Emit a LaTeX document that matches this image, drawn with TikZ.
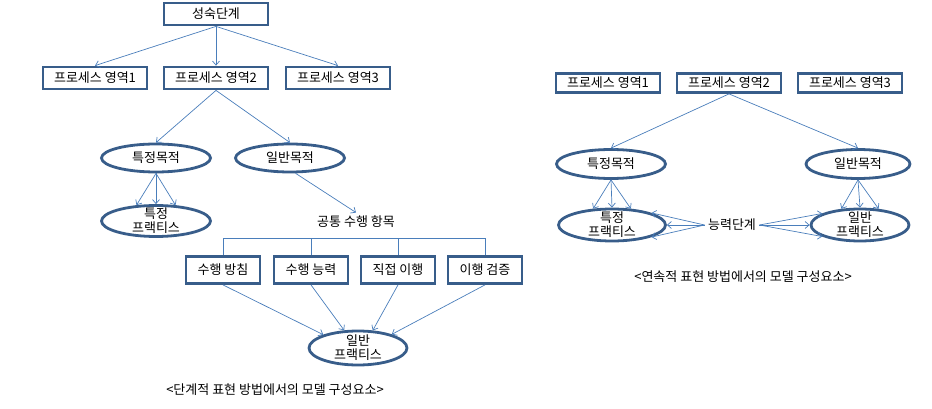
\documentclass[tikz,border=0pt]{standalone}
\usepackage{fontspec}
\setmainfont{Noto Sans CJK KR}
\usetikzlibrary{arrows.meta,shapes.geometric}
\definecolor{boxblue}{HTML}{385D8A}
\definecolor{arrowblue}{HTML}{4A7EBB}

\begin{document}
\begin{tikzpicture}[x=1pt,y=-1pt,font=\fontsize{13}{14}\selectfont,
  box/.style={draw=boxblue,line width=2.8pt,minimum width=104pt,minimum height=22pt,inner sep=0pt},
  gpbox/.style={box,minimum width=74pt,minimum height=27pt},
  oval/.style={ellipse,draw=boxblue,line width=2.8pt,minimum width=109pt,minimum height=28pt,inner sep=0pt},
  twoline/.style={align=center,inner sep=0pt},
  arr/.style={draw=arrowblue,line width=0.7pt,-{Straight Barb[length=4pt,width=7pt]}}]
\useasboundingbox (0,0) rectangle (932,409);
\node[box] (mat) at (216,14) {성숙단계};
\node[box] (pa1) at (95,78) {프로세스 영역1};\node[box] (pa2) at (216,78) {프로세스 영역2};\node[box] (pa3) at (338,78) {프로세스 영역3};
\draw[arr] (mat.south)--(pa1.north);\draw[arr] (mat.south)--(pa2.north);\draw[arr] (mat.south)--(pa3.north);
\node[oval] (sg) at (156,158) {특정목적};\node[oval] (gg) at (290,158) {일반목적};
\draw[arr] (pa2.south)--(sg.north);\draw[arr] (pa2.south)--(gg.north);
\node[oval,minimum height=31pt] (sp) at (156,221) {};\node[twoline] (spt) at (sp) {특정\\프랙티스};
\draw[arr] (sg.south)--(sp.141);\draw[arr] (sg.south)--(sp.north);\draw[arr] (sg.south)--(sp.39);
\node (cf) at (356,222) {공통 수행 항목};
\draw[arr] (gg.-70)--(cf.north);
\node[gpbox] (gp1) at (223,270) {수행 방침};\node[gpbox] (gp2) at (311,270) {수행 능력};
\node[gpbox] (gp3) at (398,270) {직접 이행};\node[gpbox] (gp4) at (485,270) {이행 검증};
\coordinate (bar) at (356,238);
\draw[arrowblue,line width=0.7pt] (gp1.north)|-(gp4.north|-bar)--(gp4.north);
\draw[arrowblue,line width=0.7pt] (gp2.north)--(gp2.north|-bar) (gp3.north)--(gp3.north|-bar);
\node[oval,minimum width=98pt,minimum height=34pt] (gp) at (358,348) {};\node[twoline] (gpt) at (gp) {일반\\프랙티스};
\draw[arr] (gp1.south)--(gp.159);\draw[arr] (gp2.south)--(gp.128);\draw[arr] (gp3.south)--(gp.50);\draw[arr] (gp4.south)--(gp.22);
\node (cap1) at (275,390) {<단계적 표현 방법에서의 모델 구성요소>};
\node[box,minimum height=19pt] (rpa1) at (608,83) {프로세스 영역1};\node[box,minimum height=19pt] (rpa2) at (729,83) {프로세스 영역2};
\node[box,minimum height=19pt] (rpa3) at (850,83) {프로세스 영역3};
\node[oval,minimum height=29pt] (rsg) at (611,164) {특정목적};\node[oval,minimum width=104pt,minimum height=29pt] (rgg) at (858,164) {일반목적};
\draw[arr] (rpa2.south)--(rsg.north);\draw[arr] (rpa2.south)--(rgg.north);
\node[oval,minimum width=107pt,minimum height=32pt] (rsp) at (612,225) {};\node[twoline] (rspt) at (rsp) {특정\\프랙티스};
\node[oval,minimum width=98pt,minimum height=32pt] (rgp) at (860,225) {};\node[twoline] (rgpt) at (rgp) {일반\\프랙티스};
\draw[arr] (rsg.south)--(rsp.139);\draw[arr] (rsg.south)--(rsp.north);\draw[arr] (rsg.south)--(rsp.41);
\draw[arr] (rgg.south)--(rgp.139);\draw[arr] (rgg.south)--(rgp.north);\draw[arr] (rgg.south)--(rgp.41);
\node (lvl) at (732,225) {능력단계};
\draw[arr] (lvl.west)--(rsp.17);\draw[arr] (lvl.west)--(rsp.east);\draw[arr] (lvl.west)--(rsp.-17);
\draw[arr] (lvl.east)--(rgp.163);\draw[arr] (lvl.east)--(rgp.west);\draw[arr] (lvl.east)--(rgp.197);
\node (cap2) at (743,277) {<연속적 표현 방법에서의 모델 구성요소>};
\end{tikzpicture}
\end{document}
